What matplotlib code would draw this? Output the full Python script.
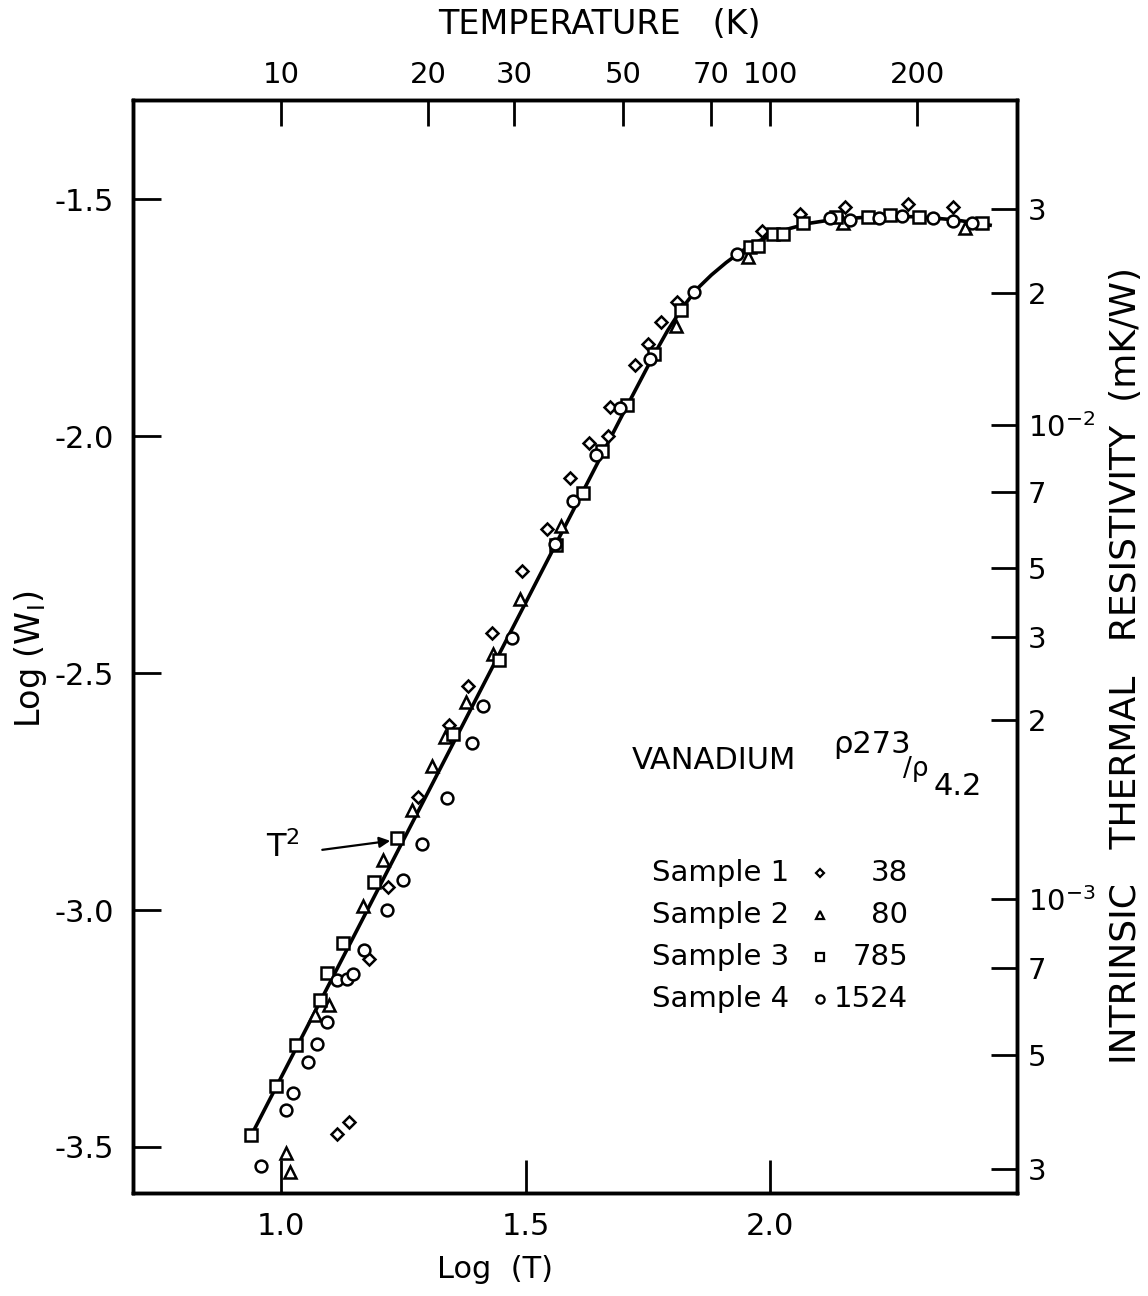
import matplotlib
matplotlib.use('Agg')
import matplotlib.pyplot as plt
import numpy as np

plt.rcParams['font.family'] = ['DejaVu Sans']
plt.rcParams['axes.unicode_minus'] = False
plt.rcParams['mathtext.default'] = 'regular'

# Sample 1 (diamonds), rho273/rho4.2 = 38
s1_logT = [1.139, 1.115, 1.180, 1.219, 1.280, 1.344, 1.382, 1.431, 1.493, 1.544,
           1.591, 1.630, 1.669, 1.673, 1.724, 1.751, 1.777, 1.810, 1.984, 2.061,
           2.153, 2.282, 2.374]
s1_logW = [-3.447, -3.473, -3.103, -2.951, -2.762, -2.610, -2.527, -2.416, -2.285, -2.196,
           -2.089, -2.015, -2.000, -1.939, -1.850, -1.806, -1.759, -1.717, -1.568, -1.532,
           -1.517, -1.511, -1.517]

# Sample 2 (triangles), 80
s2_logT = [1.010, 1.018, 1.070, 1.098, 1.168, 1.209, 1.268, 1.309, 1.335, 1.378,
           1.434, 1.489, 1.573, 1.808, 1.955, 2.149, 2.399]
s2_logW = [-3.513, -3.553, -3.222, -3.200, -2.992, -2.895, -2.789, -2.696, -2.635, -2.561,
           -2.460, -2.344, -2.190, -1.768, -1.622, -1.551, -1.561]

# Sample 3 (squares), 785
s3_logT = [0.939, 0.990, 1.031, 1.080, 1.094, 1.127, 1.190, 1.237, 1.352, 1.446,
           1.562, 1.618, 1.656, 1.708, 1.763, 1.818, 1.959, 1.975, 2.006, 2.027,
           2.067, 2.135, 2.200, 2.245, 2.305, 2.434]
s3_logW = [-3.475, -3.371, -3.285, -3.190, -3.133, -3.070, -2.941, -2.848, -2.629, -2.473,
           -2.230, -2.120, -2.032, -1.935, -1.827, -1.734, -1.601, -1.599, -1.574, -1.574,
           -1.551, -1.538, -1.538, -1.534, -1.538, -1.551]

# Sample 4 (circles), 1524
s4_logT = [0.959, 1.010, 1.025, 1.055, 1.074, 1.094, 1.115, 1.135, 1.147, 1.170,
           1.217, 1.249, 1.288, 1.339, 1.391, 1.413, 1.472, 1.560, 1.597, 1.644,
           1.693, 1.755, 1.845, 1.933, 2.123, 2.164, 2.223, 2.270, 2.333, 2.374, 2.413]
s4_logW = [-3.540, -3.422, -3.386, -3.321, -3.283, -3.236, -3.148, -3.146, -3.135, -3.084,
           -3.000, -2.937, -2.861, -2.764, -2.648, -2.570, -2.426, -2.228, -2.137, -2.040,
           -1.941, -1.838, -1.696, -1.616, -1.540, -1.544, -1.540, -1.536, -1.540, -1.546, -1.551]

# fitted curve
curve_logT = [0.939, 1.70, 1.73, 1.76, 1.79, 1.82, 1.85, 1.88, 1.91, 1.94, 1.97, 2.00,
              2.04, 2.08, 2.13, 2.20, 2.30, 2.38, 2.45]
curve_logW = [-3.475, -1.951, -1.892, -1.833, -1.778, -1.730, -1.690, -1.660, -1.634,
              -1.611, -1.592, -1.577, -1.562, -1.551, -1.543, -1.538, -1.537, -1.544, -1.555]

x_ticks = [1.0, 1.5, 2.0]
y_ticks = [-1.5, -2.0, -2.5, -3.0, -3.5]
temp_labels = ['10', '20', '30', '50', '70', '100', '200']
temp_tick_pos = [1.0, 1.301, 1.477, 1.699, 1.88, 2.0, 2.301]
res_labels = ['3', '2', '$10^{-2}$', '7', '5', '3', '2', '$10^{-3}$', '7', '5', '3']
res_tick_pos = [-1.521, -1.698, -1.977, -2.118, -2.278, -2.424, -2.599, -2.977, -3.122, -3.306, -3.546]

sample_names = ['Sample 1', 'Sample 2', 'Sample 3', 'Sample 4']
ratios = ['38', '80', '785', '1524']
markers = ['D', '^', 's', 'o']
msizes = [6, 8, 8.5, 8.5]

fig = plt.figure(figsize=(11.48, 12.96), dpi=100)
ax = fig.add_axes([0.1159, 0.0795, 0.770, 0.8433])
xlim = (0.697, 2.505)
ylim = (-3.597, -1.291)

ax.plot(curve_logT, curve_logW, color='black', lw=2.6, zorder=2)
series = [(s1_logT, s1_logW), (s2_logT, s2_logW), (s3_logT, s3_logW), (s4_logT, s4_logW)]
for (xs, ys), m, ms in zip(series, markers, msizes):
    ax.plot(xs, ys, linestyle='none', marker=m, ms=ms, mfc='white', mec='black',
            mew=1.8, zorder=3)

ax.set_xlim(*xlim)
ax.set_ylim(*ylim)
for s in ax.spines.values():
    s.set_linewidth(2.4)

ax.set_xticks(x_ticks)
ax.set_xticklabels(['1.0', '1.5', '2.0'])
ax.set_yticks(y_ticks)
ax.set_yticklabels(['-1.5', '-2.0', '-2.5', '-3.0', '-3.5'])
ax.tick_params(axis='x', direction='in', length=24, width=2, labelsize=22, pad=14,
               top=False)
ax.tick_params(axis='y', direction='in', length=20, width=2, labelsize=22, pad=14,
               right=False)
ax.set_xlabel('Log  (T)', fontsize=22)
ax.xaxis.set_label_coords(0.41, -0.057)
ax.set_ylabel('Log (W$_{\\mathrm{I}}$)', fontsize=24)
ax.yaxis.set_label_coords(-0.095, 0.488)

# top temperature axis
axt = ax.twiny()
axt.set_xlim(*xlim)
axt.set_xticks(temp_tick_pos)
axt.set_xticklabels(temp_labels)
axt.tick_params(axis='x', direction='in', length=19, width=2, labelsize=21, pad=8)
axt.set_xlabel('TEMPERATURE   (K)', fontsize=24)
axt.xaxis.set_label_coords(0.528, 1.060)

# right resistivity axis
axr = ax.twinx()
axr.set_ylim(*ylim)
axr.set_yticks(res_tick_pos)
axr.set_yticklabels(res_labels)
axr.tick_params(axis='y', direction='in', length=19, width=2, labelsize=21, pad=8)
axr.set_ylabel('INTRINSIC   THERMAL   RESISTIVITY  (mK/W)', fontsize=26)
axr.yaxis.set_label_coords(1.104, 0.483)
for a in (axt, axr):
    for s in a.spines.values():
        s.set_linewidth(2.4)

# T^2 annotation
ax.text(0.968, -2.869, 'T$^2$', fontsize=23, va='center', ha='left')
ax.annotate('', xy=(1.223, -2.854), xytext=(1.084, -2.873),
            arrowprops=dict(arrowstyle='-|>', lw=1.6, color='black', mutation_scale=16,
                            shrinkA=0, shrinkB=0))

# legend block
ax.text(1.718, -2.684, 'VANADIUM', fontsize=22, va='center', ha='left')
ax.text(2.129, -2.650, '\u03c1273', fontsize=22, va='center', ha='left')
ax.text(2.272, -2.702, '/\u03c1', fontsize=19, va='center', ha='left')
ax.text(2.335, -2.740, '4.2', fontsize=22, va='center', ha='left')
row_y = [-2.922, -3.011, -3.099, -3.188]
for name, r, m, ms, yy in zip(sample_names, ratios, markers, msizes, row_y):
    ax.text(1.759, yy, name, fontsize=21, va='center', ha='left')
    ax.plot([2.102], [yy], linestyle='none', marker=m, ms=ms * 0.7, mfc='white',
            mec='black', mew=1.6)
    ax.text(2.282, yy, r, fontsize=21, va='center', ha='right')

fig.savefig('out.png', dpi=100, facecolor='white')
